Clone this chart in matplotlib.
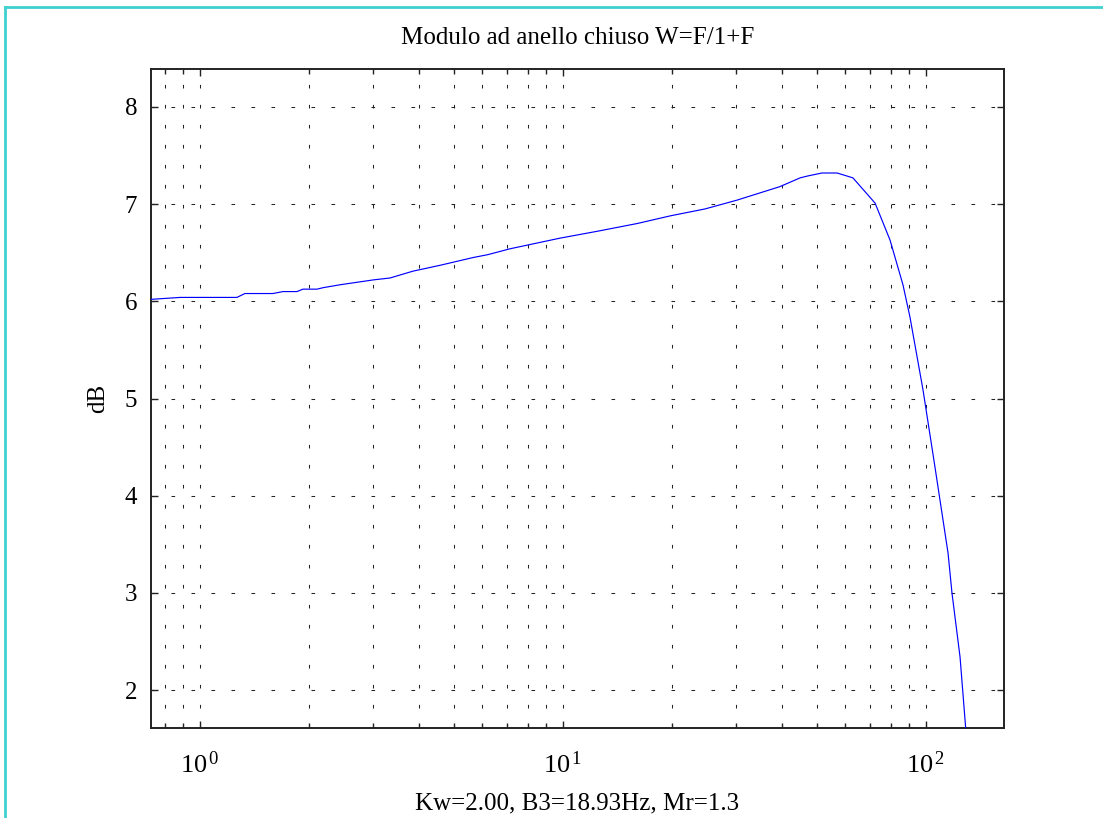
import math
import matplotlib
matplotlib.use("Agg")
import matplotlib.pyplot as plt
from matplotlib.ticker import LogLocator, FixedLocator, NullFormatter, FuncFormatter
from matplotlib.lines import Line2D

# ---- data ----
freq = [0.733, 0.881, 1.264, 1.33, 1.588, 1.693, 1.85, 1.921, 2.101, 2.183,
        2.43, 3.0, 3.34, 3.86, 4.58, 5.65, 6.21, 7.14, 9.82, 12.41,
        16.0, 19.8, 24.6, 30.1, 39.6, 45.0, 47.3, 51.7, 56.9, 62.9,
        72.4, 79.6, 86.4, 90.3, 98.1, 105.2, 115.0, 117.9, 124.1, 128.8]
mag_db = [6.02, 6.04, 6.04, 6.08, 6.08, 6.10, 6.10, 6.125, 6.125, 6.14,
          6.17, 6.22, 6.24, 6.31, 6.37, 6.45, 6.48, 6.54, 6.65, 6.72,
          6.80, 6.88, 6.95, 7.04, 7.18, 7.27, 7.29, 7.32, 7.32, 7.27,
          7.01, 6.63, 6.17, 5.84, 5.09, 4.36, 3.41, 3.0, 2.34, 1.58]
y_ticks = [2, 3, 4, 5, 6, 7, 8]
x_major = [1, 10, 100]

title_text = "Modulo ad anello chiuso W=F/1+F"
xlabel_text = "Kw=2.00, B3=18.93Hz, Mr=1.3"
ylabel_text = "dB"

plt.rcParams['font.family'] = ['Liberation Serif', 'DejaVu Serif']
plt.rcParams['mathtext.fontset'] = 'custom'
plt.rcParams['mathtext.rm'] = 'Liberation Serif'
plt.rcParams['mathtext.it'] = 'Liberation Serif'
plt.rcParams['lines.scale_dashes'] = False

fig = plt.figure(figsize=(11.03, 8.18), dpi=100)
ax = fig.add_axes([151/1103, 1 - 728/818, (1004 - 151)/1103, (728 - 69)/818])

ax.plot(freq, mag_db, color='#0000FF', lw=0.85, zorder=3)
ax.set_xscale('log')
ax.set_xlim(0.733, 164)
ax.set_ylim(1.61, 8.39)

ax.xaxis.set_major_locator(FixedLocator(x_major))
ax.xaxis.set_minor_locator(LogLocator(base=10, subs=[2, 3, 4, 5, 6, 7, 8, 9], numticks=20))
ax.xaxis.set_minor_formatter(NullFormatter())
ax.xaxis.set_major_formatter(FuncFormatter(lambda v, p: r"$10^{\,%d}$" % round(math.log10(v))))
ax.yaxis.set_major_locator(FixedLocator(y_ticks))

grid_kw = dict(color='#222222', lw=0.75, dashes=(2.6, 11.8))
ax.grid(True, which='major', axis='both', **grid_kw)
ax.grid(True, which='minor', axis='x', **grid_kw)

ax.tick_params(which='both', direction='in', top=True, right=True,
               colors='#222222', labelcolor='black', width=1.0)
ax.tick_params(which='major', length=5, labelsize=18, pad=10)
ax.tick_params(which='minor', length=3.5)
ax.tick_params(axis='x', which='major', pad=17, labelsize=19)
for s in ax.spines.values():
    s.set_color('#222222')
    s.set_linewidth(1.4)

ax.set_title(title_text, fontsize=18, pad=18)
ax.set_xlabel(xlabel_text, fontsize=18, labelpad=10)
ax.set_ylabel(ylabel_text, fontsize=18, labelpad=11)

# cyan frame (top and left edges)
fig.add_artist(Line2D([5/1103, 1.0], [1 - 7/818, 1 - 7/818], transform=fig.transFigure,
                      color='#3FD0D0', lw=2.0))
fig.add_artist(Line2D([5/1103, 5/1103], [0, 1 - 7/818], transform=fig.transFigure,
                      color='#3FD0D0', lw=2.0))

fig.savefig("out.png", dpi=100)
